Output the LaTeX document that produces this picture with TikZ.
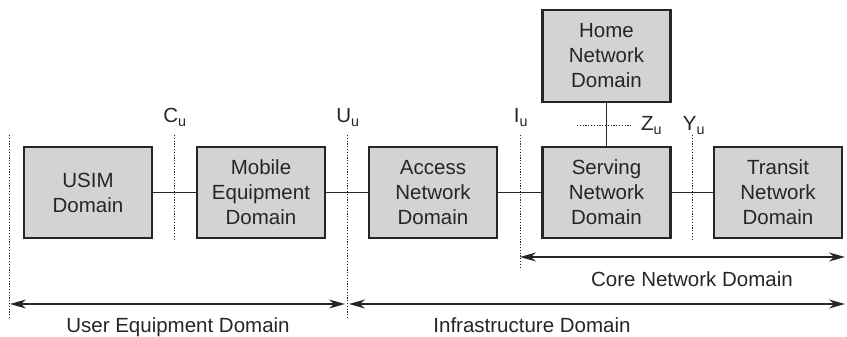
\documentclass[tikz,border=0pt]{standalone}
\usepackage{fontspec}
\setmainfont{Liberation Sans}
\usetikzlibrary{arrows.meta}
\definecolor{ink}{HTML}{262626}
\definecolor{boxfill}{HTML}{D3D3D3}
\begin{document}
\begin{tikzpicture}[x=1pt,y=-1pt,
  dom/.style={draw=ink, line width=2.4pt, fill=boxfill, minimum width=128pt, minimum height=91pt,
    inner sep=0pt, align=center, text=ink, font=\fontsize{20.5}{25}\selectfont},
  lbl/.style={text=ink, font=\fontsize{20.5}{24}\selectfont, inner sep=0pt, anchor=base},
  conn/.style={draw=ink, line width=1pt},
  ifc/.style={draw=ink, line width=0.9pt, dash pattern=on 1.2pt off 1.6pt},
  span/.style={draw=ink, line width=1.3pt, {Stealth[length=16pt,width=9pt]}-{Stealth[length=16pt,width=9pt]}}]
\useasboundingbox (0,0) rectangle (847,337);
% domains
\node[dom] (usim) at (88,192.5) {USIM\\Domain};
\node[dom] (me) at (261,192.5) {Mobile\\Equipment\\Domain};
\node[dom] (an) at (433,192.5) {Access\\Network\\Domain};
\node[dom] (sn) at (606.5,192.5) {Serving\\Network\\Domain};
\node[dom] (tn) at (778,192.5) {Transit\\Network\\Domain};
\node[dom, minimum height=92pt] (hn) at (606.5,56) {Home\\Network\\Domain};
% connectors
\draw[conn] (usim) -- (me);
\draw[conn] (me) -- (an);
\draw[conn] (an) -- (sn);
\draw[conn] (sn) -- (tn);
\draw[conn] (hn) -- (sn);
% reference points
\coordinate (l0t) at (9,135);   \coordinate (l0b) at (9,318);
\coordinate (cut) at (174,135); \coordinate (cub) at (174,239);
\coordinate (uut) at (347,135); \coordinate (uub) at (347,318);
\coordinate (iut) at (520,135); \coordinate (iub) at (520,269);
\coordinate (yut) at (692,135); \coordinate (yub) at (692,239);
\coordinate (zul) at (577,125); \coordinate (zur) at (633,125);
\draw[ifc] (l0t) -- (l0b);
\draw[ifc] (cut) -- (cub);
\draw[ifc] (uut) -- (uub);
\draw[ifc] (iut) -- (iub);
\draw[ifc] (yut) -- (yub);
\draw[ifc] (zul) -- (zur);
\node[lbl] (cu) at (175,123) {C\textsubscript{u}};
\node[lbl] (uu) at (348,123) {U\textsubscript{u}};
\node[lbl] (iu) at (521,123) {I\textsubscript{u}};
\node[lbl] (yu) at (694,131) {Y\textsubscript{u}};
\node[lbl, anchor=base west] (zu) at (641,131) {Z\textsubscript{u}};
% spans
\coordinate (ueL) at (10,304); \coordinate (ueR) at (345,304);
\coordinate (inL) at (349,304); \coordinate (inR) at (845,304);
\coordinate (cnL) at (520,257); \coordinate (cnR) at (845,257);
\draw[span] (ueL) -- (ueR);
\draw[span] (inL) -- (inR);
\draw[span] (cnL) -- (cnR);
\node[lbl] (ue) at (178,332) {User Equipment Domain};
\node[lbl] (inf) at (532,332) {Infrastructure Domain};
\node[lbl] (cn) at (692,286) {Core Network Domain};
\end{tikzpicture}
\end{document}
